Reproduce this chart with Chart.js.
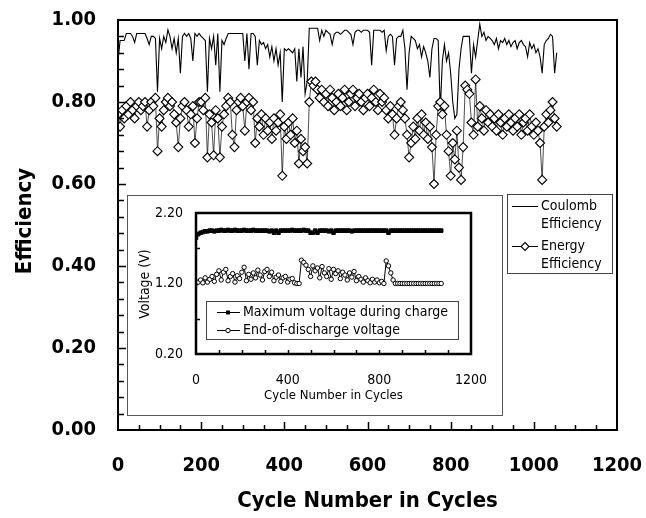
<!DOCTYPE html>
<html>
<head>
<meta charset="utf-8">
<script src="https://cdn.jsdelivr.net/npm/chart.js@4.4.0/dist/chart.umd.min.js"></script>
<style>
  html, body { margin: 0; padding: 0; background: #fff; }
  #wrap { position: relative; width: 646px; height: 518px; }
  #mainChart { position: absolute; left: 0; top: 0; }
  #insetChart { position: absolute; left: 127px; top: 195px; }
</style>
</head>
<body>
<div id="wrap">
  <canvas id="mainChart" width="646" height="518"></canvas>
  <canvas id="insetChart" width="376" height="221"></canvas>
</div>
<script>
// Main chart data: one value every 5 cycles, starting at cycle 0
const cycleStep = 5;
const coulombEfficiency = [
  0.90, 0.95, 0.95, 0.95, 0.967, 0.967, 0.967, 0.96, 0.945, 0.967, 0.967, 0.967, 0.967, 0.967, 0.955, 0.94, 0.96, 0.96, 0.955, 0.825,
  0.955, 0.93, 0.96, 0.945, 0.976, 0.96, 0.93, 0.955, 0.92, 0.955, 0.87, 0.96, 0.967, 0.96, 0.967, 0.955, 0.90, 0.967, 0.96, 0.967,
  0.96, 0.955, 0.95, 0.825, 0.955, 0.93, 0.96, 0.89, 0.967, 0.825, 0.95, 0.94, 0.955, 0.967, 0.967, 0.967, 0.967, 0.967, 0.967, 0.967,
  0.967, 0.90, 0.967, 0.88, 0.967, 0.967, 0.96, 0.89, 0.95, 0.94, 0.945, 0.93, 0.94, 0.91, 0.935, 0.90, 0.93, 0.89, 0.92, 0.80,
  0.93, 0.925, 0.93, 0.925, 0.92, 0.93, 0.85, 0.93, 0.86, 0.935, 0.82, 0.85, 0.98, 0.98, 0.98, 0.98, 0.98, 0.95, 0.975, 0.96,
  0.975, 0.97, 0.965, 0.94, 0.965, 0.97, 0.97, 0.965, 0.97, 0.975, 0.975, 0.97, 0.965, 0.94, 0.97, 0.975, 0.975, 0.97, 0.975, 0.975,
  0.975, 0.97, 0.89, 0.975, 0.975, 0.975, 0.975, 0.97, 0.975, 0.925, 0.96, 0.965, 0.96, 0.89, 0.955, 0.96, 0.96, 0.975, 0.93, 0.83,
  0.92, 0.96, 0.955, 0.95, 0.93, 0.94, 0.91, 0.935, 0.92, 0.90, 0.86, 0.93, 0.955, 0.955, 0.95, 0.78, 0.90, 0.94, 0.90, 0.92,
  0.87, 0.80, 0.76, 0.77, 0.88, 0.93, 0.96, 0.96, 0.96, 0.96, 0.87, 0.94, 0.91, 0.95, 0.99, 0.96, 0.97, 0.95, 0.96, 0.955,
  0.95, 0.94, 0.955, 0.93, 0.95, 0.945, 0.955, 0.94, 0.95, 0.935, 0.945, 0.95, 0.93, 0.945, 0.95, 0.94, 0.935, 0.91, 0.945, 0.93,
  0.94, 0.92, 0.93, 0.91, 0.87, 0.94, 0.95, 0.955, 0.965, 0.96, 0.87, 0.92
];
const energyEfficiency = [
  0.77, 0.74, 0.78, 0.76, 0.79, 0.77, 0.80, 0.78, 0.76, 0.79, 0.80, 0.78, 0.79, 0.80, 0.74, 0.78, 0.80, 0.79, 0.81, 0.68,
  0.76, 0.74, 0.78, 0.80, 0.81, 0.79, 0.80, 0.77, 0.75, 0.69, 0.76, 0.79, 0.80, 0.78, 0.74, 0.77, 0.79, 0.70, 0.76, 0.80,
  0.80, 0.78, 0.81, 0.665, 0.77, 0.75, 0.67, 0.78, 0.76, 0.665, 0.74, 0.77, 0.79, 0.81, 0.80, 0.72, 0.69, 0.78, 0.80, 0.81,
  0.79, 0.73, 0.80, 0.81, 0.78, 0.80, 0.70, 0.76, 0.74, 0.77, 0.72, 0.76, 0.73, 0.75, 0.71, 0.76, 0.73, 0.75, 0.77, 0.62,
  0.74, 0.71, 0.75, 0.72, 0.76, 0.70, 0.73, 0.65, 0.71, 0.68, 0.69, 0.65, 0.80, 0.85, 0.84, 0.85, 0.83, 0.81, 0.83, 0.80,
  0.82, 0.79, 0.83, 0.81, 0.78, 0.80, 0.82, 0.79, 0.81, 0.83, 0.78, 0.80, 0.82, 0.83, 0.79, 0.81, 0.82, 0.80, 0.78, 0.81,
  0.82, 0.79, 0.81, 0.83, 0.80, 0.78, 0.82, 0.80, 0.81, 0.78, 0.76, 0.79, 0.77, 0.72, 0.76, 0.79, 0.80, 0.78, 0.76, 0.72,
  0.665, 0.70, 0.74, 0.71, 0.76, 0.73, 0.77, 0.72, 0.75, 0.71, 0.74, 0.69, 0.60, 0.72, 0.79, 0.80, 0.77, 0.79, 0.72, 0.68,
  0.62, 0.70, 0.66, 0.73, 0.64, 0.61, 0.69, 0.84, 0.83, 0.82, 0.75, 0.72, 0.855, 0.74, 0.79, 0.76, 0.73, 0.78, 0.75, 0.77,
  0.74, 0.76, 0.73, 0.77, 0.75, 0.72, 0.76, 0.74, 0.77, 0.75, 0.73, 0.76, 0.74, 0.77, 0.72, 0.75, 0.76, 0.73, 0.77, 0.74,
  0.72, 0.75, 0.73, 0.70, 0.61, 0.74, 0.77, 0.75, 0.78, 0.80, 0.76, 0.74
];
const mainXTicks = [0, 200, 400, 600, 800, 1000, 1200];
const mainYTicks = [0, 0.2, 0.4, 0.6, 0.8, 1.0];

// Inset data: one value every 10 cycles, starting at cycle 0
const insetStep = 10;
const maxChargeVoltage = [
  1.85, 1.90, 1.92, 1.93, 1.94, 1.94, 1.95, 1.95, 1.94, 1.95,
  1.95, 1.96, 1.95, 1.95, 1.96, 1.95, 1.95, 1.96, 1.95, 1.95,
  1.95, 1.96, 1.95, 1.95, 1.95, 1.96, 1.95, 1.95, 1.95, 1.95,
  1.95, 1.95, 1.94, 1.95, 1.92, 1.95, 1.92, 1.95, 1.95, 1.95,
  1.95, 1.95, 1.96, 1.95, 1.95, 1.95, 1.95, 1.96, 1.95, 1.95,
  1.92, 1.92, 1.95, 1.92, 1.95, 1.95, 1.95, 1.95, 1.94, 1.95,
  1.92, 1.95, 1.95, 1.95, 1.95, 1.95, 1.95, 1.95, 1.94, 1.95,
  1.95, 1.95, 1.95, 1.95, 1.95, 1.95, 1.95, 1.95, 1.95, 1.95,
  1.95, 1.95, 1.95, 1.95, 1.92, 1.95, 1.95, 1.95, 1.95, 1.95,
  1.95, 1.95, 1.95, 1.95, 1.95, 1.95, 1.95, 1.95, 1.95, 1.95,
  1.95, 1.95, 1.95, 1.95, 1.95, 1.95, 1.95, 1.95
];
const endDischargeVoltage = [
  1.20, 1.22, 1.25, 1.21, 1.28, 1.22, 1.26, 1.30, 1.23, 1.33,
  1.38, 1.25, 1.36, 1.40, 1.24, 1.30, 1.34, 1.22, 1.31, 1.27,
  1.36, 1.43, 1.24, 1.33, 1.26, 1.35, 1.28, 1.39, 1.32, 1.25,
  1.37, 1.40, 1.30, 1.36, 1.24, 1.29, 1.32, 1.23, 1.28, 1.30,
  1.22, 1.26, 1.27, 1.21, 1.20, 1.20, 1.53, 1.50, 1.46, 1.40,
  1.30, 1.45, 1.38, 1.42, 1.28, 1.44, 1.35, 1.30, 1.41, 1.26,
  1.40, 1.34, 1.38, 1.27, 1.36, 1.32, 1.25, 1.35, 1.29, 1.37,
  1.24, 1.30, 1.26, 1.22, 1.28, 1.24, 1.21, 1.26, 1.22, 1.25,
  1.21, 1.23, 1.20, 1.52, 1.45, 1.35, 1.25, 1.20, 1.20, 1.20,
  1.20, 1.20, 1.20, 1.20, 1.20, 1.20, 1.20, 1.20, 1.20, 1.20,
  1.20, 1.20, 1.20, 1.20, 1.20, 1.20, 1.20, 1.20
];
const insetXTicks = [0, 400, 800, 1200];
const insetYTicks = [0.2, 1.2, 2.2];

const FONT = "'DejaVu Sans Condensed', 'DejaVu Sans', sans-serif";

function toPoints(values, step) {
  return values.map((v, i) => ({ x: i * step, y: v }));
}

// keep the plot area exactly where the layout padding puts it
function noLabelPadX(s, height) {
  s.height = height;
  s.paddingLeft = 0;
  s.paddingRight = 0;
}
function noLabelPadY(s, width) {
  s.width = width;
  s.paddingTop = 0;
  s.paddingBottom = 0;
}

function drawDiamond(ctx, x, y, r) {
  ctx.beginPath();
  ctx.moveTo(x, y - r);
  ctx.lineTo(x + r, y);
  ctx.lineTo(x, y + r);
  ctx.lineTo(x - r, y);
  ctx.closePath();
  ctx.fillStyle = "#fff";
  ctx.fill();
  ctx.stroke();
}

// Frame, inward ticks, axis titles and legend of the main chart
const mainDecor = {
  id: "mainDecor",
  afterDraw(chart) {
    const { ctx, chartArea: a, scales: { x, y } } = chart;
    ctx.save();
    ctx.strokeStyle = "#000";
    ctx.lineWidth = 2;
    ctx.strokeRect(a.left, a.top, a.right - a.left, a.bottom - a.top);

    ctx.lineWidth = 1.5;
    ctx.beginPath();
    for (let c = 50; c < 1200; c += 50) {
      const px = Math.round(x.getPixelForValue(c)) + 0.5;
      const len = c % 200 === 0 ? 8 : 5;
      ctx.moveTo(px, a.bottom);
      ctx.lineTo(px, a.bottom - len);
    }
    for (let i = 1; i < 25; i++) {
      const py = Math.round(y.getPixelForValue(i * 0.04)) + 0.5;
      const len = i % 5 === 0 ? 8 : 6;
      ctx.moveTo(a.left, py);
      ctx.lineTo(a.left + len, py);
    }
    ctx.stroke();

    // axis titles
    ctx.fillStyle = "#000";
    ctx.font = `bold 22px ${FONT}`;
    ctx.textAlign = "center";
    ctx.textBaseline = "middle";
    ctx.fillText("Cycle Number in Cycles", (a.left + a.right) / 2, 501);
    ctx.save();
    ctx.translate(25, 221);
    ctx.rotate(-Math.PI / 2);
    ctx.fillText("Efficiency", 0, 0);
    ctx.restore();

    // legend
    ctx.lineWidth = 1;
    ctx.strokeStyle = "#444";
    ctx.strokeRect(507.5, 194.5, 105, 79);
    ctx.strokeStyle = "#000";
    ctx.lineWidth = 1.1;
    ctx.beginPath();
    ctx.moveTo(512, 206.5);
    ctx.lineTo(538, 206.5);
    ctx.moveTo(512, 246.5);
    ctx.lineTo(538, 246.5);
    ctx.stroke();
    drawDiamond(ctx, 525, 246.5, 4);
    ctx.fillStyle = "#000";
    ctx.font = `14px ${FONT}`;
    ctx.textAlign = "left";
    ctx.fillText("Coulomb", 541, 206);
    ctx.fillText("Efficiency", 541, 224);
    ctx.fillText("Energy", 541, 246);
    ctx.fillText("Efficiency", 541, 264);
    ctx.restore();
  },
};

new Chart(document.getElementById("mainChart"), {
  type: "line",
  data: {
    datasets: [
      {
        label: "Coulomb Efficiency",
        data: toPoints(coulombEfficiency, cycleStep),
        borderColor: "#000",
        borderWidth: 1.1,
        pointRadius: 0,
        order: 2,
      },
      {
        label: "Energy Efficiency",
        data: toPoints(energyEfficiency, cycleStep),
        borderColor: "#000",
        borderWidth: 0.7,
        pointStyle: "rectRot",
        pointRadius: 4.5,
        pointBackgroundColor: "#fff",
        pointBorderColor: "#000",
        pointBorderWidth: 1.1,
        order: 1,
      },
    ],
  },
  options: {
    responsive: false,
    animation: false,
    events: [],
    layout: { padding: { top: 20, right: 29, left: 0, bottom: 0 } },
    elements: { line: { tension: 0 } },
    plugins: { legend: { display: false }, tooltip: { enabled: false } },
    scales: {
      x: {
        type: "linear",
        min: 0,
        max: 1200,
        afterBuildTicks: (s) => { s.ticks = mainXTicks.map((v) => ({ value: v })); },
        afterFit: (s) => noLabelPadX(s, 88),
        grid: { display: false, drawTicks: false },
        border: { display: false },
        ticks: {
          color: "#000",
          font: { family: FONT, size: 20, weight: "bold" },
          padding: 24,
          maxRotation: 0,
          autoSkip: false,
          callback: (v) => String(v),
        },
      },
      y: {
        type: "linear",
        min: 0,
        max: 1,
        afterBuildTicks: (s) => { s.ticks = mainYTicks.map((v) => ({ value: v })); },
        afterFit: (s) => noLabelPadY(s, 118),
        grid: { display: false, drawTicks: false },
        border: { display: false },
        ticks: {
          color: "#000",
          font: { family: FONT, size: 20, weight: "bold" },
          padding: 22,
          callback: (v) => v.toFixed(2),
        },
      },
    },
  },
  plugins: [mainDecor],
});

// Inset: outer box, frame, ticks, titles and legend
const insetDecor = {
  id: "insetDecor",
  beforeDraw(chart) {
    const { ctx } = chart;
    ctx.save();
    ctx.fillStyle = "#fff";
    ctx.fillRect(0, 0, chart.width, chart.height);
    ctx.strokeStyle = "#555";
    ctx.lineWidth = 1;
    ctx.strokeRect(0.5, 0.5, chart.width - 1, chart.height - 1);
    ctx.restore();
  },
  afterDraw(chart) {
    const { ctx, chartArea: a, scales: { x, y } } = chart;
    ctx.save();
    ctx.strokeStyle = "#000";
    ctx.lineWidth = 2.5;
    ctx.strokeRect(a.left, a.top, a.right - a.left, a.bottom - a.top);

    ctx.lineWidth = 1.5;
    ctx.beginPath();
    for (let c = 100; c < 1200; c += 100) {
      const px = Math.round(x.getPixelForValue(c)) + 0.5;
      ctx.moveTo(px, a.bottom);
      ctx.lineTo(px, a.bottom - 4);
    }
    [0.7, 1.7].forEach((v) => {
      const py = Math.round(y.getPixelForValue(v)) + 0.5;
      ctx.moveTo(a.left, py);
      ctx.lineTo(a.left + 4, py);
    });
    ctx.stroke();

    ctx.fillStyle = "#000";
    ctx.textAlign = "center";
    ctx.textBaseline = "middle";
    ctx.font = `13px ${FONT}`;
    ctx.fillText("Cycle Number in Cycles", (a.left + a.right) / 2, 201);
    ctx.save();
    ctx.translate(18, 89);
    ctx.rotate(-Math.PI / 2);
    ctx.font = `14px ${FONT}`;
    ctx.fillText("Voltage (V)", 0, 0);
    ctx.restore();

    // legend
    ctx.fillStyle = "#fff";
    ctx.fillRect(79, 106, 252, 38);
    ctx.strokeStyle = "#444";
    ctx.lineWidth = 1;
    ctx.strokeRect(79.5, 106.5, 252, 38);
    ctx.strokeStyle = "#000";
    ctx.beginPath();
    ctx.moveTo(90, 117.5);
    ctx.lineTo(113, 117.5);
    ctx.moveTo(90, 135.5);
    ctx.lineTo(113, 135.5);
    ctx.stroke();
    ctx.fillStyle = "#000";
    ctx.fillRect(99, 115.5, 4, 4);
    ctx.beginPath();
    ctx.arc(101, 135.5, 2.2, 0, Math.PI * 2);
    ctx.fillStyle = "#fff";
    ctx.fill();
    ctx.stroke();
    ctx.fillStyle = "#000";
    ctx.textAlign = "left";
    ctx.font = `14px ${FONT}`;
    ctx.fillText("Maximum voltage during charge", 116, 117);
    ctx.fillText("End-of-discharge voltage", 116, 135);
    ctx.restore();
  },
};

new Chart(document.getElementById("insetChart"), {
  type: "line",
  data: {
    datasets: [
      {
        label: "Maximum voltage during charge",
        data: toPoints(maxChargeVoltage, insetStep),
        borderColor: "#000",
        borderWidth: 1.5,
        pointStyle: "rect",
        pointRadius: 2.5,
        pointBackgroundColor: "#000",
        pointBorderColor: "#000",
        pointBorderWidth: 1,
      },
      {
        label: "End-of-discharge voltage",
        data: toPoints(endDischargeVoltage, insetStep),
        borderColor: "#000",
        borderWidth: 1,
        pointStyle: "circle",
        pointRadius: 2.2,
        pointBackgroundColor: "#fff",
        pointBorderColor: "#000",
        pointBorderWidth: 1,
      },
    ],
  },
  options: {
    responsive: false,
    animation: false,
    events: [],
    layout: { padding: { top: 18, right: 32, left: 0, bottom: 0 } },
    elements: { line: { tension: 0 } },
    plugins: { legend: { display: false }, tooltip: { enabled: false } },
    scales: {
      x: {
        type: "linear",
        min: 0,
        max: 1200,
        afterBuildTicks: (s) => { s.ticks = insetXTicks.map((v) => ({ value: v })); },
        afterFit: (s) => noLabelPadX(s, 62),
        grid: { display: false, drawTicks: false },
        border: { display: false },
        ticks: {
          color: "#000",
          font: { family: FONT, size: 14 },
          padding: 18,
          maxRotation: 0,
          autoSkip: false,
          callback: (v) => String(v),
        },
      },
      y: {
        type: "linear",
        min: 0.2,
        max: 2.2,
        afterBuildTicks: (s) => { s.ticks = insetYTicks.map((v) => ({ value: v })); },
        afterFit: (s) => noLabelPadY(s, 69),
        grid: { display: false, drawTicks: false },
        border: { display: false },
        ticks: {
          color: "#000",
          font: { family: FONT, size: 14 },
          padding: 13,
          callback: (v) => v.toFixed(2),
        },
      },
    },
  },
  plugins: [insetDecor],
});
</script>
</body>
</html>
